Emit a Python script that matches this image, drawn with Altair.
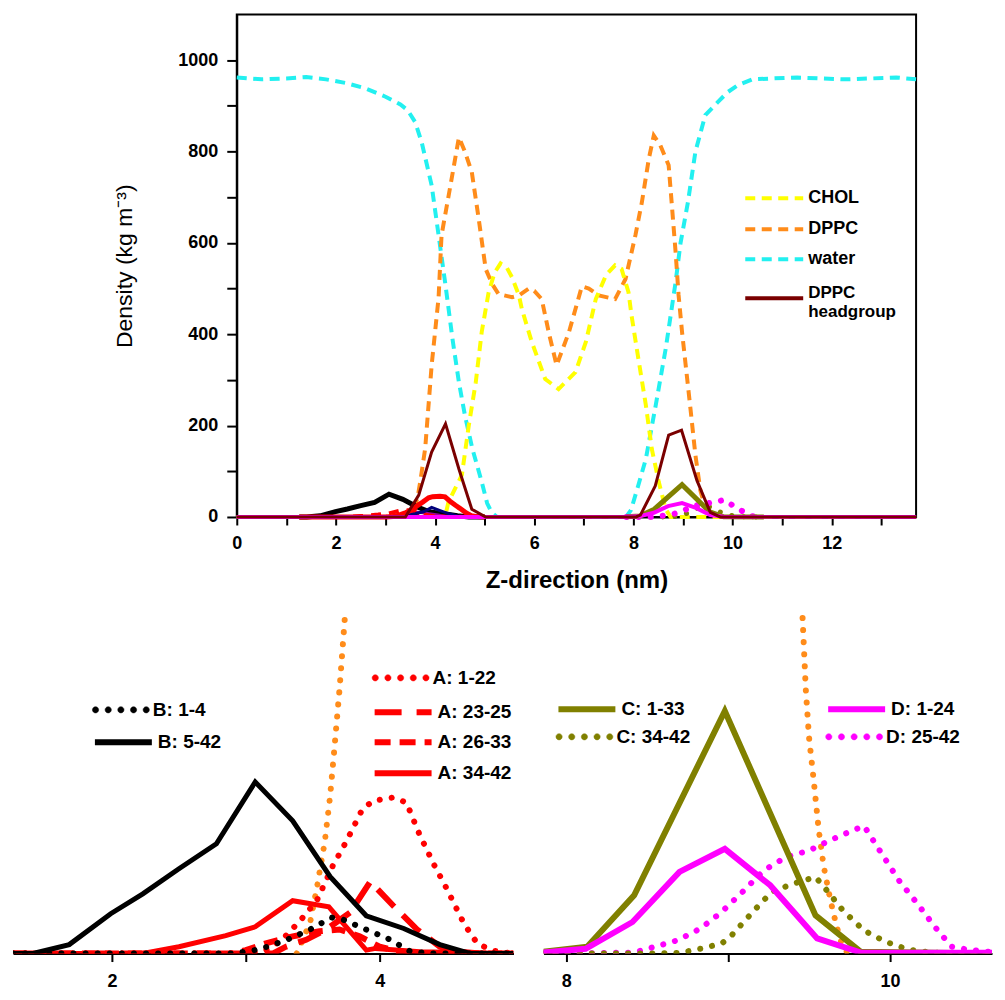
import altair as alt
import pandas as pd

FONT = "Liberation Sans"

# ---------------- top panel: density profiles (z in nm, density in kg m^-3) ----------------
water_z = [0, 0.5, 1.0, 1.4, 1.8, 2.2, 2.6, 3.0, 3.3, 3.45, 3.6, 3.73, 3.93, 4.07, 4.21, 4.35,
           4.48, 4.6, 4.75, 4.94, 5.05, 5.14, 5.25, 7.85, 7.95, 8.1, 8.25, 8.45, 8.65, 8.85,
           8.95, 9.1, 9.25, 9.45, 9.7, 9.9, 10.1, 10.4, 10.8, 11.3, 11.8, 12.3, 12.8, 13.3, 13.7]
water_rho = [962, 958, 960, 963, 958, 950, 938, 920, 903, 890, 864, 820, 726, 617, 507, 390,
             295, 223, 150, 77, 30, 10, 0, 0, 15, 70, 127, 245, 368, 514,
             600, 690, 800, 880, 908, 930, 945, 958, 960, 962, 960, 958, 960, 962, 958]

dppc_z = [0, 3.45, 3.5, 3.55, 3.6, 3.65, 3.7, 3.8, 3.93, 4.07, 4.13, 4.3, 4.48, 4.6, 4.74,
          4.88, 5.02, 5.15, 5.28, 5.55, 5.69, 5.89, 6.0, 6.15, 6.3, 6.45, 6.7, 6.96, 7.1,
          7.3, 7.63, 7.84, 8.04, 8.17, 8.31, 8.41, 8.54, 8.71, 8.77, 8.85, 8.91, 8.98, 9.15,
          9.25, 9.35, 9.45, 9.55, 13.7]
dppc_rho = [0, 0, 5, 14, 25, 45, 77, 150, 332, 480, 617, 720, 831, 800, 755,
            652, 543, 510, 488, 481, 485, 500, 495, 477, 400, 332, 405, 505, 500,
            485, 477, 521, 617, 689, 784, 835, 814, 770, 689, 580, 486, 405, 237,
            135, 58, 20, 0, 0]

chol_z = [0, 4.2, 4.27, 4.54, 4.68, 4.82, 4.94, 5.08, 5.2, 5.32, 5.45, 5.55, 5.69, 5.75,
          5.95, 6.22, 6.49, 6.83, 7.04, 7.24, 7.45, 7.63, 7.76, 7.9, 7.96, 8.1, 8.25, 8.37,
          8.51, 8.65, 8.75, 13.7]
chol_rho = [0, 0, 33, 92, 201, 295, 405, 492, 535, 555, 545, 525, 485, 455,
            383, 302, 280, 317, 383, 477, 530, 551, 543, 492, 442, 346, 245, 149,
            77, 17, 0, 0]

head_z = [0, 3.4, 3.67, 3.93, 4.21, 4.48, 4.74, 5.02, 8.05, 8.14, 8.44, 8.71, 8.97, 9.28,
          9.55, 9.75, 13.7]
head_rho = [0, 0, 48, 142, 204, 105, 17, 0, 0, 4, 68, 179, 190, 80, 10, 0, 0]

# ---------------- residue-group densities ----------------
b14_z = [1.26, 2.9, 3.1, 3.3, 3.47, 3.64, 3.72, 3.88, 4.06, 4.23, 4.4, 5.0]
b14_rho = [0, 0, 1.2, 3.9, 6.8, 10.5, 10, 7.3, 4.4, 0.6, 0, 0]

b542_z = [1.26, 1.41, 1.68, 1.99, 2.23, 2.5, 2.78, 3.07, 3.35, 3.63, 3.9, 4.18, 4.45, 4.68, 5.0]
b542_rho = [0, 0, 2.6, 11.6, 17.4, 24.7, 32, 50, 38.7, 22.4, 11, 7.3, 2.6, 0, 0]

a122_z = [1.26, 3.0, 3.15, 3.27, 3.4, 3.53, 3.65, 3.75, 3.87, 3.95, 4.1, 4.2, 4.3, 4.41,
          4.5, 4.63, 4.73, 4.85, 5.0]
a122_rho = [0, 0, 1, 4, 9.3, 15.4, 25.6, 32.6, 42, 44.5, 45.5, 44, 34.5, 25.6,
            19, 8.7, 2.9, 0.8, 0]

a2325_z = [1.26, 3.2, 3.3, 3.45, 3.6, 3.78, 3.93, 4.1, 4.28, 4.45, 4.6, 4.75, 5.0]
a2325_rho = [0, 0, 2, 4, 7, 12, 21, 14, 7, 2, 0.5, 0, 0]

a2633_z = [1.26, 2.9, 3.0, 3.15, 3.35, 3.55, 3.7, 3.85, 4.0, 4.15, 4.3, 5.0]
a2633_rho = [0, 0, 1, 3, 5, 6.5, 7, 5, 2, 0.5, 0, 0]

a3442_z = [1.26, 2.23, 2.5, 2.85, 3.07, 3.35, 3.62, 3.9, 3.97, 4.3, 5.0]
a3442_rho = [0, 0, 2, 5.2, 7.8, 15.4, 13.6, 1, 1.5, 0.5, 0]

c133_z = [7.86, 8.13, 8.42, 8.98, 9.54, 9.82, 10.63]
c133_rho = [0.5, 2, 17, 70.7, 11.1, 0.5, 0]

c3442_z = [7.86, 8.5, 8.7, 8.83, 8.96, 9.02, 9.15, 9.27, 9.4, 9.54, 9.6, 9.71, 9.84, 9.97,
           10.11, 10.25, 10.4, 10.63]
c3442_rho = [0, 0, 0.2, 1.4, 2.9, 5.2, 12, 18, 20.3, 22.3, 19, 12.5, 6.7, 3.5,
             1.2, 0.3, 0, 0]

d124_z = [0, 7.86, 8.12, 8.41, 8.7, 8.98, 9.26, 9.55, 9.82, 13.7]
d124_rho = [0, 0.3, 1.4, 9.2, 23.8, 30.5, 19.9, 4.4, 0.3, 0]

d2542_z = [7.86, 8.07, 8.42, 8.55, 8.69, 8.83, 8.96, 9.09, 9.22, 9.36, 9.5, 9.63, 9.77, 9.84,
           9.93, 10.06, 10.17, 10.27, 10.38, 10.5, 10.63]
d2542_rho = [0, 0, 0.3, 2, 3.9, 7.3, 12.1, 18, 24.2, 28.2, 30, 33, 35.9, 37.2,
             30.5, 21, 14.5, 8.2, 2, 1, 0.4]

# DPPC as drawn (dotted) in the two zoomed panels
dppc_zl_z = [3.38, 3.48, 3.53, 3.59, 3.63, 3.66, 3.7, 3.74, 3.8]
dppc_zl_rho = [0, 9, 19, 32.6, 46, 59, 77, 98, 130]
dppc_zr_z = [9.4, 9.46, 9.48, 9.5, 9.53, 9.56, 9.59, 9.63, 9.67, 9.71, 9.75]
dppc_zr_rho = [140, 98, 77, 63, 50, 36, 25.6, 16, 8, 1.5, 0]

# ---------------- labels / ticks ----------------
top_names = ["CHOL", "DPPC", "water", "DPPC headgroup"]
left_names = ["B: 1-4", "B: 5-42", "A: 1-22", "A: 23-25", "A: 26-33", "A: 34-42"]
right_names = ["C: 1-33", "C: 34-42", "D: 1-24", "D: 25-42"]
top_x_ticks = list(range(0, 14))
top_y_ticks = list(range(0, 1001, 100))
left_x_ticks = [2, 3, 4]
right_x_ticks = [8, 9, 10]

# ---------------- colours ----------------
YELLOW = "#ffff00"
ORANGE = "#ff8c1a"
CYAN = "#22f0f0"
MAROON = "#7a0000"
BLACK = "#000000"
RED = "#ff0000"
OLIVE = "#808000"
MAGENTA = "#ff00ff"
NAVY = "#00007a"
PURPLE = "#9a009a"

DOT = [0.1, 12]


def dot_path():
    r = 0.11
    parts = []
    for c in [-0.89, -0.445, 0.0, 0.445, 0.89]:
        parts.append(f"M{c - r:.3f},0A{r},{r} 0 1,0 {c + r:.3f},0A{r},{r} 0 1,0 {c - r:.3f},0Z")
    return "".join(parts)


DOT_PATH = dot_path()


def frame(z, rho, name=""):
    return pd.DataFrame({"z": z, "rho": rho, "s": name})


def legend(x, y, length, width, fs, color, dash=None, dotted=False, label_expr=None,
           baseline=None):
    kw = dict(orient="none", legendX=x, legendY=y, title=None, padding=0,
              labelFont=FONT, labelFontSize=fs, labelFontWeight="bold", labelColor="black",
              labelOffset=3, labelLimit=300, symbolSize=length * length,
              symbolStrokeColor=color, symbolOpacity=1)
    if dotted:
        kw.update(symbolType=DOT_PATH, symbolFillColor=color, symbolStrokeWidth=0.5)
    else:
        kw.update(symbolType="stroke", symbolStrokeWidth=width)
        if dash:
            kw["symbolDash"] = dash
    if label_expr:
        kw["labelExpr"] = label_expr
    if baseline:
        kw["labelBaseline"] = baseline
    return alt.Legend(**kw)


def line(data, xenc, yenc, color, width, dash=None, cap="butt", leg=None, clip=False):
    mk = dict(strokeWidth=width, strokeCap=cap, clip=clip, strokeJoin="miter")
    if dash:
        mk["strokeDash"] = dash
    base = alt.Chart(data)
    if leg is None:
        mk["color"] = color
        return base.mark_line(**mk).encode(x=xenc, y=yenc)
    return base.mark_line(**mk).encode(
        x=xenc, y=yenc,
        color=alt.Color("s:N", scale=alt.Scale(domain=[data["s"].iloc[0]], range=[color]), legend=leg))


# ---------------- top panel ----------------
ax_common = dict(labelFont=FONT, labelFontSize=18, labelFontWeight="bold", labelColor="black",
                 titleFont=FONT, titleColor="black", tickColor="black", tickWidth=2,
                 domainColor="black", domainWidth=2, grid=False, labelFlush=False,
                 labelOverlap=False)

xt = alt.X("z:Q", scale=alt.Scale(domain=[0, 13.7], nice=False, zero=False),
           axis=alt.Axis(values=top_x_ticks, format="d",
                         labelExpr="datum.value % 2 === 0 ? datum.label : ''",
                         title="Z-direction (nm)", titleFontSize=24, titleFontWeight="bold",
                         titlePadding=16, tickSize=8, labelPadding=10, **ax_common))
yt = alt.Y("rho:Q", scale=alt.Scale(domain=[0, 1100], nice=False),
           axis=alt.Axis(values=top_y_ticks, format="d",
                         labelExpr="datum.value % 200 === 0 ? datum.label : ''",
                         title="Density (kg m\u207b\u00b3)", titleFontSize=23, titleFontWeight="normal",
                         titlePadding=41, tickSize=10, labelPadding=9, **ax_common))

TOP_DASH = [10, 6.5]
LFS = 18
tl = [
    line(frame(water_z, water_rho, top_names[2]), xt, yt, CYAN, 4, TOP_DASH,
         leg=legend(507, 214, 58, 4, LFS, CYAN, dash=TOP_DASH)),
    line(frame(dppc_z, dppc_rho, top_names[1]), xt, yt, ORANGE, 4, TOP_DASH,
         leg=legend(507, 184, 58, 4, LFS, ORANGE, dash=TOP_DASH)),
    line(frame(chol_z, chol_rho, top_names[0]), xt, yt, YELLOW, 4, TOP_DASH,
         leg=legend(507, 153, 58, 4, LFS, YELLOW, dash=TOP_DASH)),
    line(frame(b542_z, b542_rho), xt, yt, BLACK, 5),
    line(frame(b14_z, b14_rho), xt, yt, PURPLE, 3),
    line(frame(a3442_z, a3442_rho), xt, yt, RED, 4, [10, 8]),
    line(frame(a2633_z, a2633_rho), xt, yt, RED, 3, [8, 8]),
    line(frame(a2325_z, a2325_rho), xt, yt, NAVY, 3),
    line(frame(a122_z, a122_rho), xt, yt, RED, 5),
    line(frame(c3442_z, c3442_rho), xt, yt, OLIVE, 5, DOT, cap="round"),
    line(frame(d2542_z, d2542_rho), xt, yt, MAGENTA, 6, DOT, cap="round"),
    line(frame(c133_z, c133_rho), xt, yt, OLIVE, 5),
    line(frame(d124_z, d124_rho), xt, yt, MAGENTA, 4),
    line(frame(head_z, head_rho, top_names[3]), xt, yt, MAROON, 3,
         leg=legend(507, 253, 58, 4, 17, MAROON, label_expr="['DPPC', 'headgroup']",
                    baseline="alphabetic")),
]
top = alt.layer(*tl).resolve_scale(color="independent").resolve_legend(color="independent").properties(
    width=680, height=503, view=alt.ViewBackground(stroke="black", strokeWidth=2))

spacer = alt.Chart(pd.DataFrame({"v": [0]})).mark_point(opacity=0).encode(
    x=alt.X("v:Q", axis=None), y=alt.Y("v:Q", axis=None)).properties(width=99, height=20)

# ---------------- zoomed panels ----------------
zoom_axis = dict(format="d", labelExpr="datum.value % 2 === 0 ? datum.label : ''", title=None,
                 tickSize=8, labelPadding=11, **ax_common)
yz = alt.Y("rho:Q", scale=alt.Scale(domain=[0, 99], nice=False), axis=None)
xl = alt.X("z:Q", scale=alt.Scale(domain=[1.26, 5.0], nice=False, zero=False),
           axis=alt.Axis(values=left_x_ticks, **zoom_axis))
xr = alt.X("z:Q", scale=alt.Scale(domain=[7.86, 10.63], nice=False, zero=False),
           axis=alt.Axis(values=right_x_ticks, **zoom_axis))

FS = 19
bl_layers = [
    line(frame(dppc_zl_z, dppc_zl_rho), xl, yz, ORANGE, 6, DOT, cap="round", clip=True),
    line(frame(a122_z, a122_rho, left_names[2]), xl, yz, RED, 6, DOT, cap="round", clip=True,
         leg=legend(359, 35, 57, 6, FS, RED, dotted=True)),
    line(frame(a2325_z, a2325_rho, left_names[3]), xl, yz, RED, 6, [24, 12], clip=True,
         leg=legend(359, 67, 57, 6, FS, RED, dash=[27, 15])),
    line(frame(a2633_z, a2633_rho, left_names[4]), xl, yz, RED, 6, [14, 9], clip=True,
         leg=legend(359, 97, 57, 6, FS, RED, dash=[16, 9])),
    line(frame(a3442_z, a3442_rho, left_names[5]), xl, yz, RED, 5, clip=True,
         leg=legend(359, 128, 57, 6, FS, RED)),
    line(frame(b14_z, b14_rho, left_names[0]), xl, yz, BLACK, 6, DOT, cap="round", clip=True,
         leg=legend(79, 67, 57, 6, FS, BLACK, dotted=True)),
    line(frame(b542_z, b542_rho, left_names[1]), xl, yz, BLACK, 5, clip=True,
         leg=legend(79, 97, 57, 6, FS, BLACK)),
]
bl = alt.layer(*bl_layers).resolve_scale(color="independent").resolve_legend(
    color="independent").properties(width=501, height=340)

br_layers = [
    line(frame(dppc_zr_z, dppc_zr_rho), xr, yz, ORANGE, 6, DOT, cap="round", clip=True),
    line(frame(d2542_z, d2542_rho, right_names[3]), xr, yz, MAGENTA, 6, DOT, cap="round", clip=True,
         leg=legend(282, 94, 57, 6, FS, MAGENTA, dotted=True)),
    line(frame(c3442_z, c3442_rho, right_names[1]), xr, yz, OLIVE, 6, DOT, cap="round", clip=True,
         leg=legend(12, 94, 57, 6, FS, OLIVE, dotted=True)),
    line(frame(c133_z, c133_rho, right_names[0]), xr, yz, OLIVE, 6, clip=True,
         leg=legend(12, 64, 57, 6, FS, OLIVE)),
    line(frame(d124_z, d124_rho, right_names[2]), xr, yz, MAGENTA, 6, clip=True,
         leg=legend(282, 64, 57, 6, FS, MAGENTA)),
]
br = alt.layer(*br_layers).resolve_scale(color="independent").resolve_legend(
    color="independent").properties(width=449, height=340)

chart = alt.vconcat(
    alt.hconcat(spacer, top, spacing=0),
    alt.hconcat(bl, br, spacing=30),
    spacing=20,
).configure(font=FONT).configure_view(stroke=None)

chart.save("out.html", embed_options={"renderer": "svg", "actions": False})
